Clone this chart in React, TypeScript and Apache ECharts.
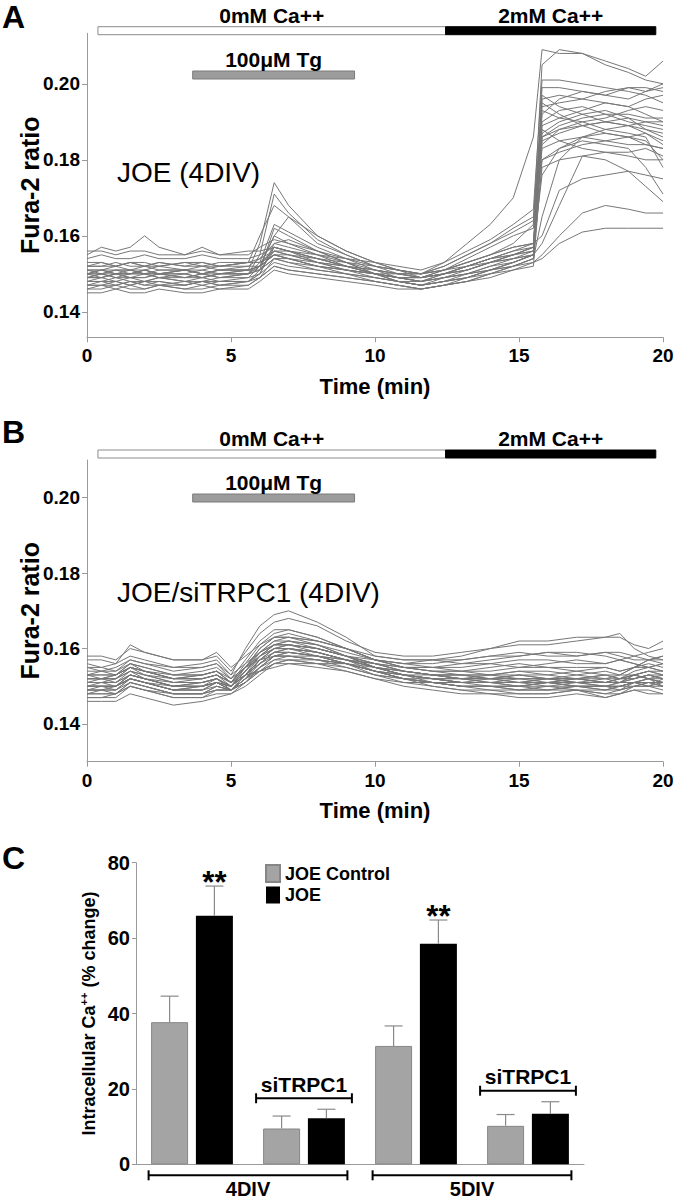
import React, { useEffect, useRef } from 'react';
import * as echarts from 'echarts';

const FONT = "'Liberation Sans', Arial, Helvetica, sans-serif";

// ---------- Panels A & B: Fura-2 ratio traces ----------
// time points (min)
const timeA = [0, 0.5, 1.0, 1.5, 2.0, 2.5, 3.4, 4.0, 4.6, 5.6, 6.0, 6.5, 7.0, 8.0, 9.0, 10.0, 10.8, 11.6, 12.4, 13.2, 14.0, 14.8, 15.5, 15.8, 16.4, 17.2, 18.0, 18.8, 19.4, 20.0];
const timeB = [0, 0.5, 1.0, 1.5, 2.0, 3.0, 4.0, 4.5, 5.0, 5.5, 6.0, 6.5, 7.0, 8.0, 9.0, 10.0, 11.0, 12.0, 13.0, 14.0, 15.0, 16.0, 17.0, 18.0, 18.5, 19.0, 19.5, 20.0];

// Fura-2 ratio in thousandths (e.g. 150 = 0.150)
const tracesA: number[][] = [
  [150,151,150,151,150,150,151,150,151,151,158,174,168,160,156,153,151,150,153,158,163,170,186,209,208,208,206,204,202,206],
  [149,150,149,150,151,150,150,149,150,150,155,171,166,159,155,152,150,150,151,153,155,158,163,205,209,208,205,203,201,200],
  [152,152,153,152,152,153,152,152,153,153,160,168,165,158,155,152,151,150,151,152,154,155,157,199,199,198,197,199,198,199],
  [148,148,149,148,148,149,148,148,149,149,152,160,165,160,156,153,151,149,150,151,153,155,156,196,197,196,195,194,196,197],
  [150,149,150,150,150,149,150,149,150,150,153,163,161,157,154,151,149,148,149,150,152,153,155,192,196,198,197,196,198,200],
  [147,147,148,147,148,147,147,148,147,148,151,162,160,156,153,150,148,147,148,150,151,153,155,190,193,194,192,190,189,188],
  [151,151,152,151,151,152,151,151,152,152,154,158,157,155,153,151,150,149,150,152,154,156,158,187,190,192,193,191,188,186],
  [155,157,156,157,160,157,155,157,155,155,157,159,158,156,154,152,151,150,152,155,158,162,165,194,195,196,198,199,199,198],
  [156,156,155,156,156,155,155,156,155,156,156,157,156,155,154,153,152,151,153,156,159,163,167,201,201,200,199,198,197,195],
  [149,149,150,149,149,150,149,149,150,150,151,156,155,153,152,150,149,148,149,150,152,154,155,186,188,189,190,191,190,189],
  [146,146,147,146,146,147,146,146,147,147,149,154,154,152,150,148,147,146,147,149,151,152,154,185,187,189,190,189,187,185],
  [153,153,152,153,153,152,153,153,152,153,154,156,156,154,152,150,149,149,151,153,155,157,158,183,185,186,187,186,184,183],
  [148,149,148,149,148,149,148,149,148,149,150,153,152,151,150,149,148,148,150,152,154,155,157,197,194,192,190,189,190,190],
  [150,150,151,150,151,150,151,150,151,151,152,155,154,152,151,150,150,149,151,154,157,160,162,195,192,189,187,186,185,180],
  [145,145,146,145,145,146,145,145,146,146,148,151,150,149,148,147,146,146,147,148,150,152,154,165,180,186,188,189,188,187],
  [147,147,147,148,147,147,148,147,148,148,149,152,151,150,149,148,147,146,147,148,149,151,153,155,160,166,168,167,166,166],
  [149,149,150,149,149,150,149,150,149,150,151,154,153,151,150,149,148,147,148,149,150,152,153,154,158,161,162,162,162,162],
  [151,150,151,151,150,151,151,150,151,151,152,157,156,154,152,150,149,148,150,152,154,156,157,176,183,185,184,183,178,171],
  [152,152,152,153,152,152,153,152,152,153,153,156,155,153,152,151,150,150,151,153,155,157,158,160,172,175,176,177,176,175],
  [148,148,148,147,148,148,147,148,148,148,150,158,159,156,153,150,148,147,148,149,151,153,155,188,185,183,182,182,183,181],
  [150,151,150,150,151,150,150,151,150,151,152,155,154,153,151,150,149,149,150,151,153,155,157,193,191,190,188,187,186,178],
  [154,155,154,154,155,154,154,155,154,154,155,157,156,154,153,152,151,150,152,155,158,161,164,180,182,184,185,186,187,184],
  [146,147,146,147,146,147,146,147,146,147,149,152,151,150,149,148,147,146,147,148,150,151,152,180,183,186,185,184,184,183],
  [151,151,151,151,152,151,151,152,151,152,152,155,154,152,151,150,149,148,149,150,151,153,155,158,168,181,182,181,180,180],
  [149,150,149,149,150,149,149,150,149,150,152,160,158,155,152,150,148,147,149,151,153,154,156,189,191,193,195,194,192,190],
  [152,153,152,153,152,153,152,153,152,153,153,155,155,154,152,151,150,149,150,152,153,155,156,184,188,190,191,193,194,193],
  [150,150,150,150,150,150,151,150,150,151,151,154,153,152,151,150,149,149,150,151,153,154,155,178,180,181,180,177,173,169],
  [147,148,147,148,147,148,147,148,147,148,150,157,156,153,151,149,148,147,148,149,151,152,154,186,189,191,192,192,191,191],
];

const tracesB: number[][] = [
  [156,155,156,158,157,155,156,157,153,160,166,169,170,167,163,158,157,157,157,158,158,159,159,158,157,158,159,160],
  [157,157,156,161,159,157,157,158,154,159,164,167,168,166,162,159,158,158,159,160,161,161,162,163,164,160,158,157],
  [155,154,155,157,156,155,155,156,152,157,162,165,165,163,160,157,156,157,158,160,162,162,163,163,163,161,160,162],
  [153,153,153,156,155,153,153,154,151,156,161,164,165,163,160,157,155,155,154,154,155,155,155,155,154,155,157,156],
  [152,152,152,155,154,152,152,153,150,155,160,163,163,161,158,155,154,153,153,152,153,153,152,153,152,154,155,154],
  [151,151,151,154,153,151,151,152,150,154,159,162,162,160,158,155,153,152,152,153,152,152,153,152,152,153,154,153],
  [150,150,150,153,152,150,150,152,149,153,158,161,161,159,157,154,152,152,151,151,151,152,152,151,151,152,153,152],
  [149,149,149,152,151,149,149,151,149,152,157,160,160,158,156,153,152,151,151,150,150,151,151,150,151,153,152,151],
  [151,152,151,153,152,150,151,152,150,154,158,160,161,160,158,156,154,153,152,152,153,152,151,151,152,153,152,150],
  [148,148,148,151,150,148,148,150,149,152,156,159,160,159,157,155,153,151,150,150,149,149,150,150,149,151,151,150],
  [153,154,153,155,154,152,153,154,151,155,159,161,162,161,159,157,155,154,154,153,154,154,153,154,153,155,156,155],
  [150,150,150,152,151,149,150,151,149,153,157,159,159,158,156,154,152,151,150,150,150,151,150,149,150,151,152,151],
  [147,147,147,150,149,147,147,149,149,151,155,158,158,157,155,153,151,150,149,149,148,148,149,148,148,150,150,149],
  [152,152,152,154,153,151,152,153,151,153,154,155,156,156,156,155,154,153,153,152,152,152,152,152,153,153,154,153],
  [154,154,154,156,155,153,154,155,152,155,157,158,158,158,157,156,155,155,156,156,157,157,156,156,157,156,155,156],
  [149,149,150,152,151,149,149,151,149,152,154,156,157,157,156,154,153,152,151,151,151,150,150,150,150,151,152,152],
  [146,146,146,148,147,145,146,147,148,150,153,156,157,156,154,152,150,149,148,148,147,147,148,147,148,149,148,148],
  [158,158,157,160,159,157,157,159,155,158,161,163,163,162,160,158,157,157,156,157,158,159,158,159,159,158,157,158],
  [151,151,151,153,152,150,151,152,150,153,156,158,158,157,156,154,153,153,152,151,151,151,152,151,151,152,153,152],
  [150,150,150,152,151,149,150,151,150,153,156,159,159,158,156,154,153,152,152,152,151,152,151,152,151,153,152,153],
  [152,152,152,155,153,152,152,153,151,154,158,161,161,160,158,156,154,153,153,153,153,152,152,153,152,153,154,154],
  [148,148,148,151,150,148,148,149,149,151,154,157,157,156,155,153,152,151,150,149,149,150,149,149,150,150,151,150],
  [149,149,149,151,150,148,148,150,149,152,155,157,158,157,156,154,152,151,150,150,150,149,149,148,149,150,151,151],
  [153,153,153,156,154,153,153,154,151,155,160,163,164,162,160,157,155,154,153,153,154,153,154,153,153,155,155,154],
  [150,150,150,153,152,150,150,151,150,154,158,161,162,161,158,155,153,152,151,152,151,151,150,150,151,151,150,152],
  [147,147,148,150,149,147,147,148,148,151,155,158,159,158,156,154,152,150,149,148,148,148,149,147,148,149,149,148],
  [155,155,154,157,156,154,155,156,153,156,159,161,161,160,158,157,156,156,157,158,159,158,158,159,158,157,157,158],
  [151,151,152,154,152,151,151,152,150,153,157,160,160,159,157,155,154,153,152,152,152,152,151,151,152,152,153,152],
  [149,150,149,152,151,149,149,150,149,152,155,158,159,158,157,155,153,152,151,151,150,151,150,150,150,151,150,151],
  [150,151,150,153,152,150,150,151,150,153,157,160,161,160,158,156,154,153,152,151,152,151,152,151,152,152,153,153],
  [152,152,153,155,154,152,152,153,151,155,159,162,163,162,160,157,156,155,155,156,155,156,157,156,157,156,155,156],
  [148,149,148,150,149,148,148,149,149,151,154,156,156,155,154,152,151,151,150,150,149,149,150,149,149,150,150,150],
  [153,152,153,155,154,152,153,154,152,155,158,160,160,159,157,156,155,154,154,155,156,155,154,155,154,155,157,157],
  [150,150,150,152,151,150,150,151,150,153,156,159,160,159,157,155,153,152,151,151,150,150,151,150,150,151,152,151],
];

// protocol annotations (min)
const phaseLabels = ['0mM Ca++', '2mM Ca++'];
const phaseStart = [0.38, 12.45];
const phaseEnd = [12.45, 19.75];
const tgLabel = '100\u03bcM Tg';
const tgStart = 3.67;
const tgEnd = 9.29;

const traceYTicks = [0.14, 0.16, 0.18, 0.2];

// ---------- Panel C: bar chart ----------
const barCategories = ['4DIV', '4DIV siTRPC1', '5DIV', '5DIV siTRPC1'];
const controlMean = [37.7, 9.5, 31.4, 10.2];
const controlSem = [6.9, 3.3, 5.3, 3.0];
const joeMean = [65.9, 12.2, 58.5, 13.4];
const joeSem = [7.9, 2.4, 6.3, 3.2];
const joeStars = ['**', '', '**', ''];
const siTRPC1Categories = [1, 3];
const divGroups = [[0, 1], [2, 3]];
const divLabels = ['4DIV', '5DIV'];

const BAR_W = 37;
const BAR_GAP_PX = 7.8;
const HALF_OFFSET = (BAR_W + BAR_GAP_PX) / 2;

const axisGray = '#9a9a9a';

function traceSeries(times: number[], traces: number[][], idx: number) {
  return traces.map((tr) => ({
    type: 'line',
    xAxisIndex: idx,
    yAxisIndex: idx,
    data: times.map((t, i) => [t, tr[i] / 1000]),
    showSymbol: false,
    symbol: 'none',
    silent: true,
    lineStyle: { width: 1, color: '#777777' },
    z: 2,
  }));
}

function annotationSeries(idx: number, phaseTop: number, tgTop: number) {
  const items = [...phaseStart.map((s, i) => [s, phaseEnd[i], i]), [tgStart, tgEnd, 2]];
  return {
    type: 'custom',
    xAxisIndex: idx,
    yAxisIndex: idx,
    silent: true,
    clip: false,
    z: 10,
    data: items,
    renderItem: (params: any, api: any) => {
      const kind = api.value(2);
      const x1 = api.coord([api.value(0), 0.15])[0];
      const x2 = api.coord([api.value(1), 0.15])[0];
      const gridTop = params.coordSys.y;
      const top = gridTop + (kind === 2 ? tgTop : phaseTop);
      const fill = kind === 0 ? '#ffffff' : kind === 1 ? '#000000' : '#9c9c9c';
      const stroke = kind === 0 ? '#8c8c8c' : kind === 1 ? '#000000' : '#7a7a7a';
      const label = kind === 2 ? tgLabel : phaseLabels[kind];
      return {
        type: 'group',
        children: [
          { type: 'rect', shape: { x: x1, y: top, width: x2 - x1, height: 8 }, style: { fill, stroke, lineWidth: 1 } },
          {
            type: 'text',
            style: {
              text: label, x: (x1 + x2) / 2, y: top - 1, align: 'center', verticalAlign: 'bottom',
              fontSize: 21, fontWeight: 'bold', fontFamily: FONT, fill: '#000',
            },
          },
        ],
      };
    },
  };
}

function errorSeries(means: number[], sems: number[], side: number, stars: string[] | null) {
  return {
    type: 'custom',
    xAxisIndex: 2,
    yAxisIndex: 2,
    silent: true,
    clip: false,
    z: 5,
    data: means.map((m, i) => [i, m, sems[i]]),
    renderItem: (params: any, api: any) => {
      const i = api.value(0);
      const m = api.value(1);
      const s = api.value(2);
      const base = api.coord([i, m]);
      const top = api.coord([i, m + s]);
      const x = base[0] + side * HALF_OFFSET;
      const children: any[] = [
        { type: 'line', shape: { x1: x, y1: base[1], x2: x, y2: top[1] }, style: { stroke: '#8a8a8a', lineWidth: 1.2 } },
        { type: 'line', shape: { x1: x - 9, y1: top[1], x2: x + 9, y2: top[1] }, style: { stroke: '#8a8a8a', lineWidth: 1.2 } },
      ];
      const star = stars ? stars[params.dataIndex] : '';
      if (star) {
        children.push({
          type: 'text',
          style: {
            text: star, x, y: top[1] - 4, align: 'center', verticalAlign: 'middle',
            fontSize: 31, fontWeight: 'bold', fontFamily: FONT, fill: '#000',
          },
        });
      }
      return { type: 'group', children };
    },
  };
}

function bracketShape(x1: number, x2: number, y: number, label: string, labelDy: number, fontSize: number) {
  return {
    type: 'group',
    children: [
      { type: 'line', shape: { x1, y1: y, x2, y2: y }, style: { stroke: '#000', lineWidth: 2 } },
      { type: 'line', shape: { x1, y1: y - 5, x2: x1, y2: y + 5 }, style: { stroke: '#000', lineWidth: 2 } },
      { type: 'line', shape: { x1: x2, y1: y - 5, x2, y2: y + 5 }, style: { stroke: '#000', lineWidth: 2 } },
      {
        type: 'text',
        style: {
          text: label, x: (x1 + x2) / 2, y: y + labelDy, align: 'center', verticalAlign: 'middle',
          fontSize, fontWeight: 'bold', fontFamily: FONT, fill: '#000',
        },
      },
    ],
  };
}

function timeXAxis(idx: number) {
  return {
    gridIndex: idx,
    type: 'value',
    min: 0,
    max: 20,
    interval: 5,
    axisLine: { show: true, lineStyle: { color: axisGray, width: 1 } },
    axisTick: { show: true, length: 5, lineStyle: { color: axisGray } },
    axisLabel: { show: true, fontSize: 19, fontWeight: 'bold', color: '#000', fontFamily: FONT, margin: 9 },
    splitLine: { show: false },
    name: 'Time (min)',
    nameLocation: 'middle',
    nameGap: 38,
    nameTextStyle: { fontSize: 22, fontWeight: 'bold', color: '#000', fontFamily: FONT },
  };
}

function ratioYAxis(idx: number, min: number, max: number) {
  return {
    gridIndex: idx,
    type: 'value',
    min,
    max,
    axisLine: { show: true, lineStyle: { color: axisGray, width: 1 } },
    axisTick: { show: true, length: 5, customValues: traceYTicks, lineStyle: { color: axisGray } },
    axisLabel: {
      show: true, customValues: traceYTicks, formatter: (v: number) => v.toFixed(2),
      fontSize: 19, fontWeight: 'bold', color: '#000', fontFamily: FONT, margin: 7,
    },
    splitLine: { show: false },
    name: 'Fura-2 ratio',
    nameLocation: 'middle',
    nameRotate: 90,
    nameGap: 45,
    nameMoveOverlap: false,
    nameTextStyle: { fontSize: 25, fontWeight: 'bold', color: '#000', fontFamily: FONT },
  };
}

export default function App() {
  const ref = useRef<HTMLDivElement>(null);

  useEffect(() => {
    if (!ref.current) return;
    const chart = echarts.init(ref.current, undefined, { renderer: 'svg' });

    const titleStyle = (size: number, weight: string) => ({
      fontSize: size, fontWeight: weight, color: '#000', fontFamily: FONT,
    });

    const option: any = {
      animation: false,
      backgroundColor: '#ffffff',
      title: [
        { text: 'A', left: 2, top: 1, padding: 0, textStyle: titleStyle(32, 'bold') },
        { text: 'B', left: 2, top: 416, padding: 0, textStyle: titleStyle(32, 'bold') },
        { text: 'C', left: 2, top: 842, padding: 0, textStyle: titleStyle(32, 'bold') },
        { text: 'JOE (4DIV)', left: 117, top: 158, padding: 0, textStyle: titleStyle(28, 'normal') },
        { text: 'JOE/siTRPC1 (4DIV)', left: 117, top: 578, padding: 0, textStyle: titleStyle(28, 'normal') },
      ],
      legend: {
        data: ['JOE Control', 'JOE'],
        orient: 'vertical',
        left: 265,
        top: 864,
        padding: 0,
        itemWidth: 14,
        itemHeight: 17,
        itemGap: 3,
        icon: 'rect',
        selectedMode: false,
        textStyle: { fontSize: 18, fontWeight: 'bold', color: '#000', fontFamily: FONT },
      },
      grid: [
        { left: 87, right: 15, top: 33.3, height: 304 },
        { left: 87, right: 15, top: 460, height: 301.7 },
        { left: 136, right: 94, top: 862.7, height: 301.6 },
      ],
      xAxis: [
        timeXAxis(0),
        timeXAxis(1),
        {
          gridIndex: 2,
          type: 'category',
          data: barCategories,
          axisLine: { show: true, lineStyle: { color: axisGray, width: 1 } },
          axisTick: { show: false },
          axisLabel: { show: false },
          splitLine: { show: false },
        },
      ],
      yAxis: [
        ratioYAxis(0, 0.1333, 0.2133),
        ratioYAxis(1, 0.13, 0.21),
        {
          gridIndex: 2,
          type: 'value',
          min: 0,
          max: 80,
          interval: 20,
          axisLine: { show: true, lineStyle: { color: axisGray, width: 1 } },
          axisTick: { show: true, length: 4, lineStyle: { color: axisGray } },
          axisLabel: { show: true, fontSize: 20, fontWeight: 'bold', color: '#000', fontFamily: FONT, margin: 6 },
          splitLine: { show: false },
          name: '{a|Intracellular Ca}{s|++}{a| (% change)}',
          nameLocation: 'middle',
          nameRotate: 90,
          nameGap: 36,
          nameMoveOverlap: false,
          nameTextStyle: {
            rich: {
              a: { fontSize: 18, fontWeight: 'bold', color: '#000', fontFamily: FONT, lineHeight: 22 },
              s: { fontSize: 11, fontWeight: 'bold', color: '#000', fontFamily: FONT, verticalAlign: 'top', lineHeight: 11 },
            },
          },
        },
      ],
      series: [
        ...traceSeries(timeA, tracesA, 0),
        ...traceSeries(timeB, tracesB, 1),
        annotationSeries(0, -6.6, 37.7),
        annotationSeries(1, -10, 34),
        {
          type: 'bar',
          name: 'JOE Control',
          xAxisIndex: 2,
          yAxisIndex: 2,
          data: controlMean,
          barWidth: BAR_W,
          barGap: `${(BAR_GAP_PX / BAR_W) * 100}%`,
          itemStyle: { color: '#a4a4a4', borderColor: '#868686', borderWidth: 1 },
          silent: true,
        },
        {
          type: 'bar',
          name: 'JOE',
          xAxisIndex: 2,
          yAxisIndex: 2,
          data: joeMean,
          barWidth: BAR_W,
          barGap: `${(BAR_GAP_PX / BAR_W) * 100}%`,
          itemStyle: { color: '#000000' },
          silent: true,
        },
        errorSeries(controlMean, controlSem, -1, null),
        errorSeries(joeMean, joeSem, 1, joeStars),
        {
          type: 'custom',
          xAxisIndex: 2,
          yAxisIndex: 2,
          silent: true,
          clip: false,
          z: 6,
          data: siTRPC1Categories.map((i) => [
            i,
            Math.max(controlMean[i] + controlSem[i], joeMean[i] + joeSem[i]),
          ]),
          renderItem: (_params: any, api: any) => {
            const c = api.coord([api.value(0), api.value(1)]);
            const y = c[1] - 11;
            const ext = HALF_OFFSET + BAR_W / 2 + 7;
            return bracketShape(c[0] - ext, c[0] + ext, y, 'siTRPC1', -14, 21);
          },
        },
        {
          type: 'custom',
          xAxisIndex: 2,
          yAxisIndex: 2,
          silent: true,
          clip: false,
          z: 6,
          data: divGroups.map((g) => [g[0], g[1]]),
          renderItem: (params: any, api: any) => {
            const a = api.coord([api.value(0), 0]);
            const b = api.coord([api.value(1), 0]);
            const y = a[1] + 11;
            const ext = HALF_OFFSET + BAR_W / 2 + 2.5;
            return bracketShape(a[0] - ext, b[0] + ext, y, divLabels[params.dataIndex], 14, 20);
          },
        },
      ],
    };

    chart.setOption(option);
    return () => {
      chart.dispose();
    };
  }, []);

  return (
    <div
      ref={ref}
      style={{ position: 'absolute', left: 0, top: 0, width: 678, height: 1200, background: '#fff' }}
    />
  );
}
